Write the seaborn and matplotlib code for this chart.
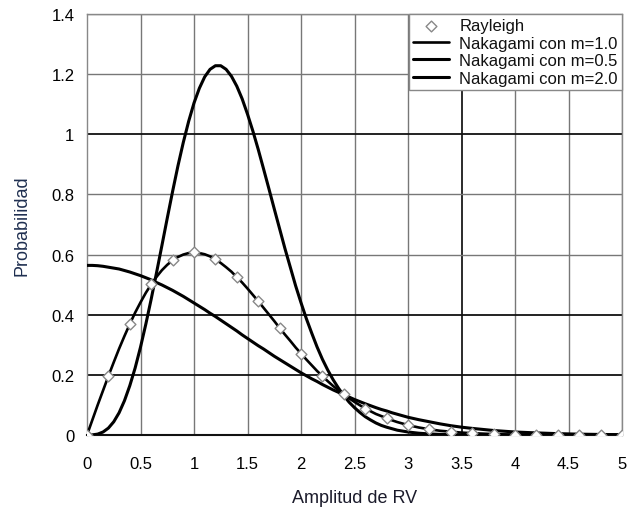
import matplotlib
matplotlib.use("Agg")
import matplotlib.pyplot as plt
import seaborn as sns
import pandas as pd

# x grid
x_vals = [0.0, 0.05, 0.1, 0.15, 0.2, 0.25, 0.3, 0.35, 0.4, 0.45,
          0.5, 0.55, 0.6, 0.65, 0.7, 0.75, 0.8, 0.85, 0.9, 0.95,
          1.0, 1.05, 1.1, 1.15, 1.2, 1.25, 1.3, 1.35, 1.4, 1.45,
          1.5, 1.55, 1.6, 1.65, 1.7, 1.75, 1.8, 1.85, 1.9, 1.95,
          2.0, 2.05, 2.1, 2.15, 2.2, 2.25, 2.3, 2.35, 2.4, 2.45,
          2.5, 2.55, 2.6, 2.65, 2.7, 2.75, 2.8, 2.85, 2.9, 2.95,
          3.0, 3.1, 3.2, 3.3, 3.4, 3.5, 3.6, 3.8, 4.0, 4.2, 4.4, 4.6, 4.8, 5.0]

nak_m10 = [0.0, 0.050, 0.100, 0.148, 0.196, 0.242, 0.287, 0.329, 0.369, 0.407,
           0.441, 0.473, 0.501, 0.526, 0.548, 0.566, 0.581, 0.592, 0.600, 0.605,
           0.607, 0.605, 0.601, 0.594, 0.584, 0.572, 0.558, 0.543, 0.525, 0.507,
           0.487, 0.466, 0.445, 0.423, 0.401, 0.379, 0.356, 0.334, 0.313, 0.291,
           0.271, 0.251, 0.232, 0.213, 0.196, 0.179, 0.163, 0.149, 0.135, 0.122,
           0.110, 0.099, 0.088, 0.079, 0.070, 0.063, 0.056, 0.049, 0.043, 0.038,
           0.033, 0.025, 0.019, 0.014, 0.011, 0.008, 0.006, 0.003, 0.001, 0.001,
           0.0, 0.0, 0.0, 0.0]

nak_m05 = [0.564, 0.564, 0.563, 0.561, 0.558, 0.555, 0.552, 0.547, 0.542, 0.536,
           0.530, 0.523, 0.516, 0.507, 0.499, 0.490, 0.481, 0.471, 0.461, 0.450,
           0.439, 0.428, 0.417, 0.405, 0.394, 0.382, 0.370, 0.358, 0.346, 0.333,
           0.321, 0.309, 0.297, 0.286, 0.274, 0.262, 0.251, 0.240, 0.229, 0.218,
           0.207, 0.197, 0.187, 0.178, 0.168, 0.159, 0.150, 0.142, 0.134, 0.126,
           0.118, 0.111, 0.104, 0.0975, 0.091, 0.085, 0.080, 0.074, 0.069, 0.064,
           0.059, 0.051, 0.044, 0.037, 0.031, 0.026, 0.022, 0.015, 0.010, 0.007,
           0.0045, 0.0028, 0.0018, 0.0011]

nak_m20 = [0.0, 0.0004, 0.003, 0.010, 0.023, 0.044, 0.074, 0.114, 0.164, 0.223,
           0.292, 0.369, 0.452, 0.540, 0.630, 0.721, 0.810, 0.895, 0.973, 1.043,
           1.104, 1.153, 1.191, 1.216, 1.228, 1.228, 1.216, 1.193, 1.160, 1.118,
           1.067, 1.011, 0.950, 0.885, 0.819, 0.752, 0.686, 0.620, 0.558, 0.496,
           0.440, 0.387, 0.339, 0.293, 0.252, 0.216, 0.184, 0.156, 0.131, 0.109,
           0.091, 0.075, 0.061, 0.050, 0.040, 0.032, 0.026, 0.021, 0.016, 0.013,
           0.010, 0.006, 0.0035, 0.002, 0.0011, 0.0006, 0.0003, 0.0001, 0.0, 0.0,
           0.0, 0.0, 0.0, 0.0]

ray_x = [0.0, 0.2, 0.4, 0.6, 0.8, 1.0, 1.2, 1.4, 1.6, 1.8, 2.0, 2.2, 2.4, 2.6, 2.8,
         3.0, 3.2, 3.4, 3.6, 3.8, 4.0, 4.2, 4.4, 4.6, 4.8, 5.0]
ray_y = [0.0, 0.196, 0.369, 0.501, 0.581, 0.607, 0.584, 0.525, 0.445, 0.356, 0.271,
         0.196, 0.135, 0.088, 0.056, 0.033, 0.019, 0.011, 0.006, 0.003, 0.001, 0.001,
         0.0, 0.0, 0.0, 0.0]

x_ticks = [0, 0.5, 1, 1.5, 2, 2.5, 3, 3.5, 4, 4.5, 5]
x_tick_labels = ["0", "0.5", "1", "1.5", "2", "2.5", "3", "3.5", "4", "4.5", "5"]
y_ticks = [0, 0.2, 0.4, 0.6, 0.8, 1.0, 1.2, 1.4]
y_tick_labels = ["0", "0.2", "0.4", "0.6", "0.8", "1", "1.2", "1.4"]

sns.set_style("white")
plt.rcParams["font.family"] = ["Liberation Sans", "DejaVu Sans"]

fig = plt.figure(figsize=(6.27, 5.10), dpi=100)
ax = fig.add_axes([87 / 627, 1 - 436 / 510, 535 / 627, 421 / 510])

curves = pd.DataFrame({"x": x_vals, "m10": nak_m10, "m05": nak_m05, "m20": nak_m20})
ray = pd.DataFrame({"x": ray_x, "y": ray_y})

# grid
for t in x_ticks[1:]:
    dark = (t == 3.5)
    ax.axvline(t, color="#1a1a1a" if dark else "#777777", lw=1.3 if dark else 1.0, zorder=0)
for t in y_ticks[1:]:
    dark = t in (0.2, 0.4, 1.0)
    ax.axhline(t, color="#111111" if dark else "#777777", lw=1.3 if dark else 1.0, zorder=0)

sns.lineplot(data=curves, x="x", y="m10", ax=ax, color="black", lw=1.9,
             label="Nakagami con m=1.0", zorder=3)
sns.lineplot(data=curves, x="x", y="m05", ax=ax, color="black", lw=2.2,
             label="Nakagami con m=0.5", zorder=3)
sns.lineplot(data=curves, x="x", y="m20", ax=ax, color="black", lw=2.2,
             label="Nakagami con m=2.0", zorder=3)
sns.scatterplot(data=ray, x="x", y="y", ax=ax, marker="D", s=30,
                facecolor="white", edgecolor="#888888", linewidth=1.0,
                label="Rayleigh", zorder=4)

ax.set_xlim(0, 5)
ax.set_ylim(0, 1.4)
ax.set_xticks(x_ticks)
ax.set_xticklabels(x_tick_labels, fontsize=12, color="black")
ax.set_yticks(y_ticks)
ax.set_yticklabels(y_tick_labels, fontsize=12, color="black")
ax.tick_params(axis="x", length=0, pad=15)
ax.tick_params(axis="y", length=0, pad=9)
ax.set_xlabel("Amplitud de RV", fontsize=13, color="#1b1b2b", labelpad=13)
ax.set_ylabel("Probabilidad", fontsize=13, color="#1f2f50", labelpad=15)

for s in ["left", "right", "top"]:
    ax.spines[s].set_color("#888888")
    ax.spines[s].set_linewidth(1.0)
ax.spines["bottom"].set_color("#111111")
ax.spines["bottom"].set_linewidth(1.5)

handles, labels = ax.get_legend_handles_labels()
order = [3, 0, 1, 2]
leg = ax.legend([handles[i] for i in order], [labels[i] for i in order],
                loc="upper right", bbox_to_anchor=(1.0, 1.0), fontsize=12,
                frameon=True, fancybox=False, edgecolor="#888888",
                framealpha=1.0, borderaxespad=0, handlelength=2.2,
                handletextpad=0.6, labelspacing=0.15, borderpad=0.25)
leg.get_frame().set_linewidth(1.0)
for t in leg.get_texts():
    t.set_color("#111111")

fig.savefig("out.png", dpi=100)
